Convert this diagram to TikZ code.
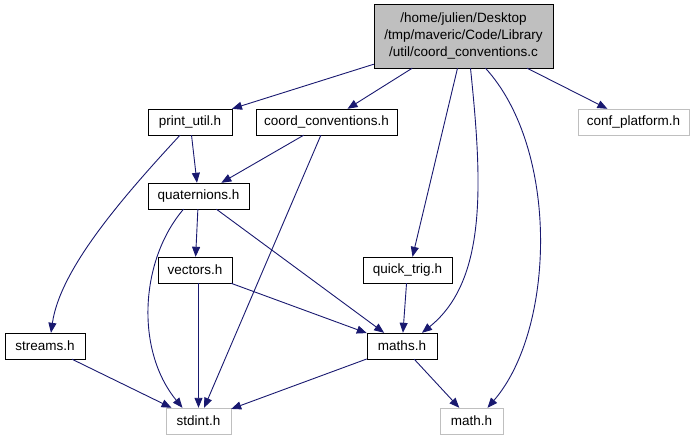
\documentclass[tikz,border=0pt]{standalone}
\usepackage{fontspec}
\setmainfont{Liberation Sans}
\usetikzlibrary{arrows.meta}
\definecolor{incl}{RGB}{25,25,112}

\begin{document}
\begin{tikzpicture}[x=1pt, y=-1pt,
  hdr/.style={draw, thin, fill=white, minimum height=26pt, inner sep=0pt,
    font=\fontsize{13.5}{17}\selectfont},
  sys/.style={hdr, draw=gray!50},
  root/.style={hdr, fill=gray!50, align=center, minimum width=179pt, minimum height=64pt},
  dep/.style={-{Triangle[length=10pt, width=8pt]}, incl, line width=0.9pt}]

\useasboundingbox (0,0) rectangle (696,440);

\node[root] (src) at (463.5,36) {/home/julien/Desktop\\/tmp/maveric/Code/Library\\/util/coord\_conventions.c};

\node[hdr, minimum width=84pt] (printutil) at (190,122) {print\_util.h};
\node[hdr, minimum width=141pt] (coordconv) at (326.5,122) {coord\_conventions.h};
\node[sys, minimum width=111pt] (confplat) at (633.5,122) {conf\_platform.h};
\node[hdr, minimum width=101pt] (quat) at (198.5,196) {quaternions.h};
\node[hdr, minimum width=74pt] (vectors) at (195,270) {vectors.h};
\node[hdr, minimum width=89pt] (quicktrig) at (407.5,270) {quick\_trig.h};
\node[hdr, minimum width=80pt] (streams) at (45,346) {streams.h};
\node[hdr, minimum width=70pt] (maths) at (402,346) {maths.h};
\node[sys, minimum width=65pt] (stdint) at (198.5,421) {stdint.h};
\node[sys, minimum width=63pt] (mathh) at (471.5,421) {math.h};

\draw[dep] (src) -- (printutil);
\draw[dep] (src) -- (coordconv);
\draw[dep] (src) -- (confplat);
\draw[dep] ([xshift=-6pt]src.south) -- ([xshift=5pt]quicktrig.north);
\draw[dep] ([xshift=7pt]src.south) .. controls (482,180) and (488,280) .. ([xshift=20pt]maths.north);
\draw[dep] ([xshift=22pt]src.south) .. controls (560,150) and (555,330) .. ([xshift=16pt]mathh.north);

\draw[dep] (printutil) -- (quat);
\draw[dep] ([xshift=-10pt]printutil.south) .. controls (120,200) and (60,270) .. ([xshift=6pt]streams.north);
\draw[dep] (coordconv) -- (quat);
\draw[dep] (coordconv) -- (stdint);

\draw[dep] (quat) -- (vectors);
\draw[dep] ([xshift=-15pt]quat.south) .. controls (140,260) and (135,350) .. ([xshift=-16pt]stdint.north);
\draw[dep] (quat) -- (maths);

\draw[dep] (vectors.south -| stdint.north) -- (stdint.north);
\draw[dep] (vectors) -- (maths);
\draw[dep] (quicktrig) -- (maths);

\draw[dep] (streams) -- (stdint);
\draw[dep] (maths) -- (stdint);
\draw[dep] (maths) -- (mathh);
\end{tikzpicture}
\end{document}
